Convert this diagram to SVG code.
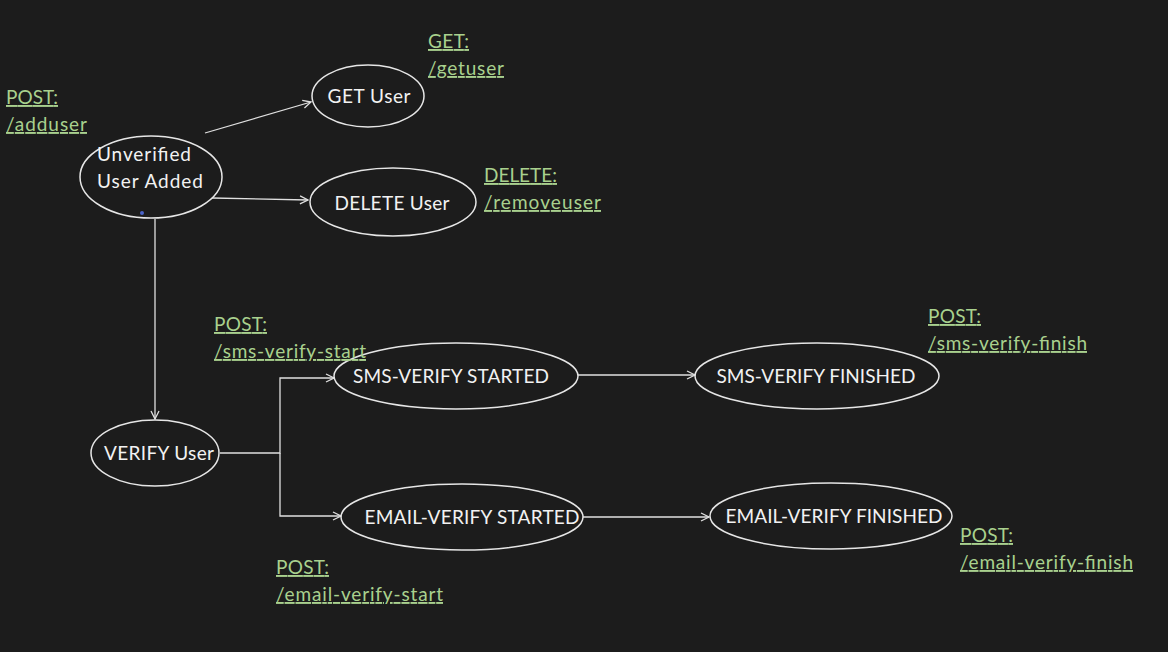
<svg xmlns="http://www.w3.org/2000/svg" width="1168" height="652" viewBox="0 0 1168 652">
<style>
.node ellipse{fill:none;stroke:#e6e6e6;stroke-width:1.5}
.node text{fill:#f2f2f2;font-family:Lato,"Open Sans","Liberation Sans",sans-serif;font-size:19px;text-anchor:middle}
.lbl{fill:#a9d18e;font-family:Lato,"Open Sans","Liberation Sans",sans-serif;font-size:19px;text-decoration:underline}
.conn path{fill:none;stroke:#e0e0e0;stroke-width:1.3}
</style>
<defs>
<marker id="arr" markerWidth="10" markerHeight="10" refX="9" refY="5" orient="auto" markerUnits="userSpaceOnUse">
<path d="M1,1 L9,5 L1,9" fill="none" stroke="#e0e0e0" stroke-width="1.3"/>
</marker>
</defs>
<rect width="1168" height="652" fill="#1c1c1c"/>
<g id="connectors" class="conn">
<path d="M205,133 L311,102" marker-end="url(#arr)"/>
<path d="M212,198 L308,200" marker-end="url(#arr)"/>
<path d="M155,219 L155,419" marker-end="url(#arr)"/>
<path d="M220,453 L280,453 L280,378 L334,378" marker-end="url(#arr)"/>
<path d="M280,453 L280,516 L341,516" marker-end="url(#arr)"/>
<path d="M578,375 L695,375" marker-end="url(#arr)"/>
<path d="M583,517 L709,517" marker-end="url(#arr)"/>
</g>
<g id="node-unverified" class="node">
<ellipse cx="151" cy="177" rx="71" ry="41"/>
<text x="144" y="161" textLength="94">Unverified</text>
<text x="150" y="188" textLength="106">User Added</text>
<circle cx="142" cy="213" r="2" fill="#4a63c8"/>
</g>
<g id="node-get" class="node">
<ellipse cx="368" cy="96" rx="56" ry="31"/>
<text x="369" y="103" textLength="83">GET User</text>
</g>
<g id="node-delete" class="node">
<ellipse cx="393" cy="202" rx="83" ry="34"/>
<text x="392" y="210" textLength="115">DELETE User</text>
</g>
<g id="node-verify" class="node">
<ellipse cx="155" cy="453" rx="64" ry="33"/>
<text x="159" y="460" textLength="110">VERIFY User</text>
</g>
<g id="node-sms-start" class="node">
<ellipse cx="456" cy="376" rx="122" ry="33"/>
<text x="451" y="383" textLength="196">SMS-VERIFY STARTED</text>
</g>
<g id="node-sms-finish" class="node">
<ellipse cx="817" cy="376" rx="122" ry="33"/>
<text x="816" y="383" textLength="199">SMS-VERIFY FINISHED</text>
</g>
<g id="node-email-start" class="node">
<ellipse cx="462" cy="517" rx="121" ry="33"/>
<text x="472" y="524" textLength="215">EMAIL-VERIFY STARTED</text>
</g>
<g id="node-email-finish" class="node">
<ellipse cx="831" cy="516" rx="121" ry="33"/>
<text x="834" y="523" textLength="217">EMAIL-VERIFY FINISHED</text>
</g>
<g id="labels">
<text class="lbl" x="428" y="48" textLength="41">GET:</text>
<text class="lbl" x="428" y="75" textLength="76">/getuser</text>
<text class="lbl" x="6" y="104" textLength="52">POST:</text>
<text class="lbl" x="6" y="131" textLength="81">/adduser</text>
<text class="lbl" x="484" y="182" textLength="73">DELETE:</text>
<text class="lbl" x="484" y="209" textLength="117">/removeuser</text>
<text class="lbl" x="214" y="331" textLength="53">POST:</text>
<text class="lbl" x="214" y="358" textLength="152">/sms-verify-start</text>
<text class="lbl" x="928" y="323" textLength="53">POST:</text>
<text class="lbl" x="928" y="350" textLength="159">/sms-verify-finish</text>
<text class="lbl" x="276" y="574" textLength="53">POST:</text>
<text class="lbl" x="276" y="601" textLength="167">/email-verify-start</text>
<text class="lbl" x="960" y="542" textLength="53">POST:</text>
<text class="lbl" x="960" y="569" textLength="173">/email-verify-finish</text>
</g>
</svg>
